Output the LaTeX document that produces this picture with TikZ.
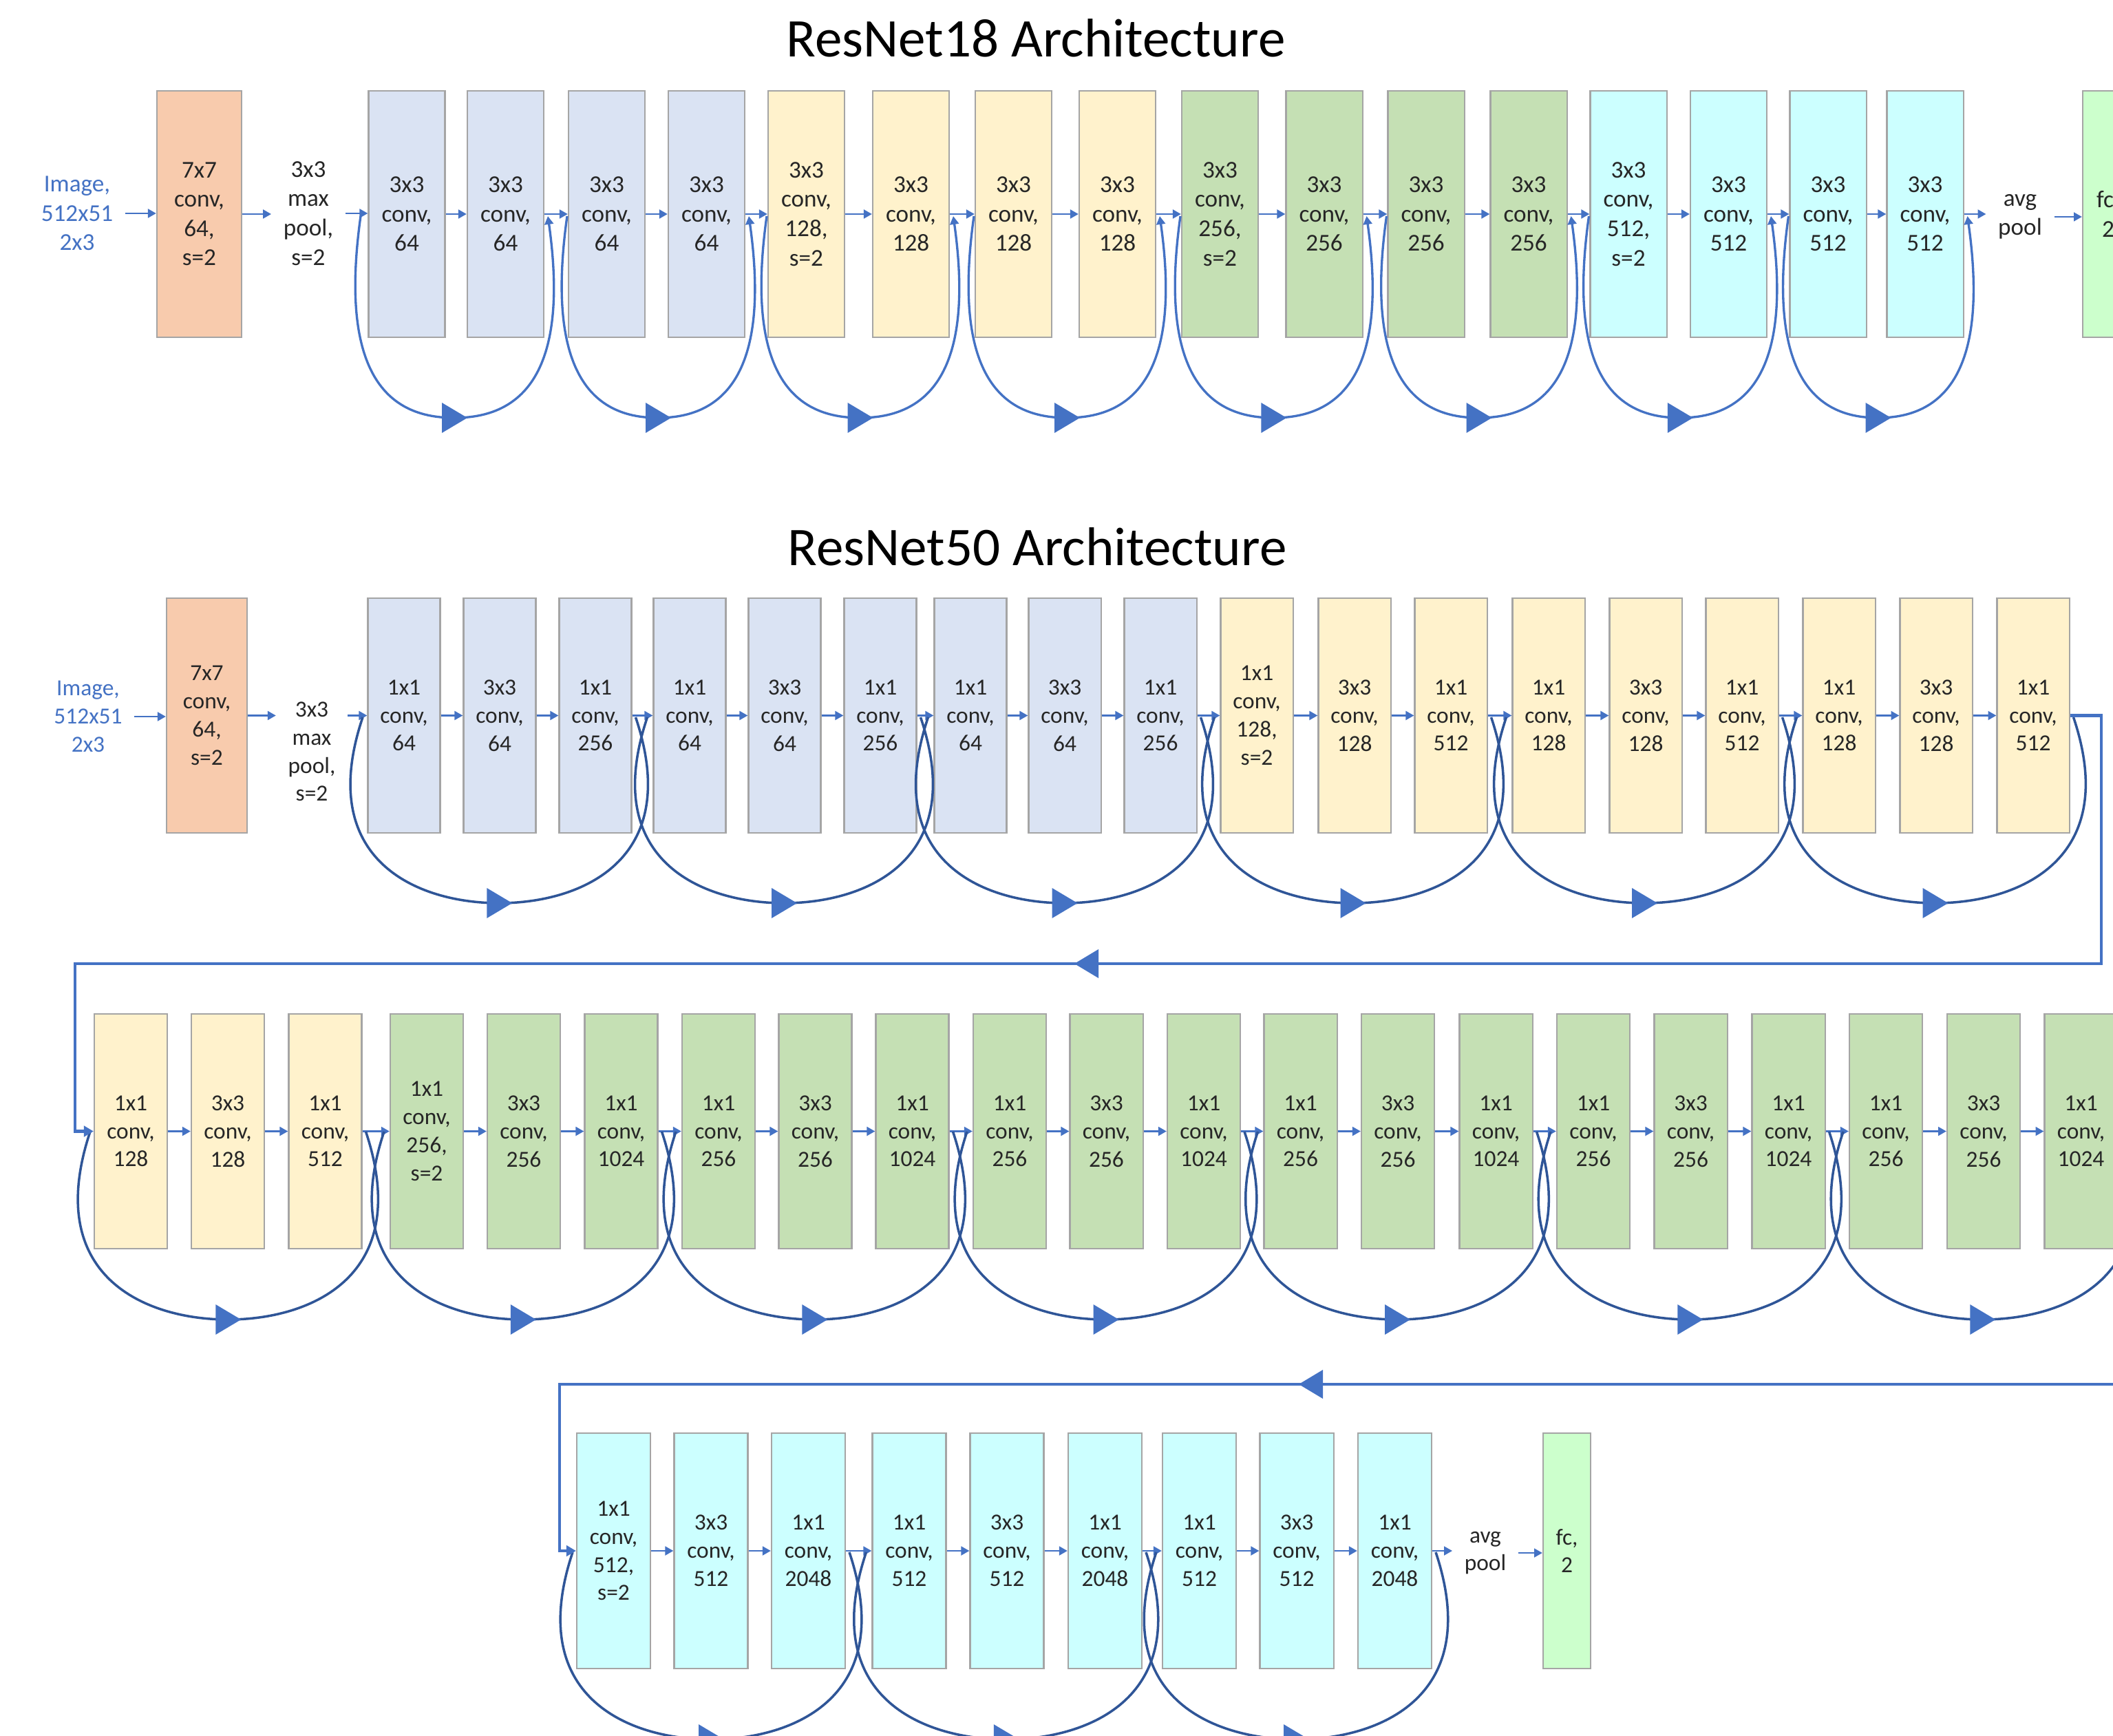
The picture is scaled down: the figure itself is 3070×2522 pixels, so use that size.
\documentclass[tikz,border=0pt]{standalone}
\usepackage{fontspec}
\setmainfont{Carlito}
\usetikzlibrary{arrows.meta}

\definecolor{lineblue}{HTML}{4472C4}
\definecolor{skipnavy}{HTML}{2F5597}
\definecolor{boxline}{HTML}{A5A5A5}
\definecolor{txtgrey}{HTML}{262626}
\definecolor{cOrange}{HTML}{F8CBAD}
\definecolor{cBlue}{HTML}{DAE3F3}
\definecolor{cYellow}{HTML}{FFF2CC}
\definecolor{cGreen}{HTML}{C5E0B4}
\definecolor{cCyan}{HTML}{CCFFFF}
\definecolor{cFc}{HTML}{CCFFCC}

\tikzset{
  bigtri/.pic={\fill[lineblue] (-18,-22) -- (19,0) -- (-18,22) -- cycle;},
  lefttri/.pic={\fill[lineblue] (18,-21) -- (-17,0) -- (18,21) -- cycle;},
}

% residual shortcut: #1 name, #2 start x, #3 end x, #4 top y, #5 bottom y,
% #6 bow of the legs, #7 line style, #8 height fraction of the leg controls
\newcommand\resskip[8]{%
  \pgfmathsetmacro\rsMid{((#2)+(#3))/2}%
  \pgfmathsetmacro\rsCy{(#4)+(#8)*((#5)-(#4))}%
  \pgfmathsetmacro\rsLx{\rsMid-0.6*(\rsMid-(#2))}%
  \pgfmathsetmacro\rsRx{\rsMid+0.6*((#3)-\rsMid)}%
  \coordinate (#1s) at (#2,#4);
  \coordinate (#1m) at (\rsMid,#5);
  \coordinate (#1e) at (#3,#4);
  \draw[#7] (#1s) .. controls (#2-#6,\rsCy) and (\rsLx,#5) .. (#1m)
                 .. controls (\rsRx,#5) and (#3+#6,\rsCy) .. (#1e);
  \pic at (#1m) {bigtri};
}

\begin{document}
\begin{tikzpicture}[x=0.01cm, y=-0.01cm,
  blk/.style={draw=boxline, line width=0.6pt, align=center, text=txtgrey, inner sep=0pt},
  r18/.style={blk, minimum width=1.11cm, minimum height=3.57cm, font=\fontsize{10}{12.1}\selectfont},
  r50a/.style={blk, minimum width=1.05cm, minimum height=3.41cm, font=\fontsize{9.5}{11.6}\selectfont},
  r50b/.style={blk, minimum width=1.06cm, minimum height=3.41cm, font=\fontsize{9.5}{11.6}\selectfont},
  r50c/.style={blk, minimum width=1.07cm, minimum height=3.42cm, font=\fontsize{9.5}{11.6}\selectfont},
  lbl/.style={align=center, inner xsep=0.17cm, inner ysep=0pt, text=txtgrey},
  lbl18/.style={lbl, font=\fontsize{10}{12.1}\selectfont},
  lbl50/.style={lbl, font=\fontsize{9.5}{11.6}\selectfont},
  ttl/.style={font=\fontsize{22.5}{27}\selectfont, text=black, inner sep=0pt, anchor=base},
  flow/.style={draw=lineblue, line width=0.8pt, -{Triangle[length=3.4pt,width=3.6pt]}},
  skip18/.style={draw=lineblue, line width=0.95pt, -{Triangle[length=3.4pt,width=3.6pt]}},
  skip50/.style={draw=skipnavy, line width=1pt},
  ret/.style={draw=lineblue, line width=1.2pt, -{Triangle[length=4pt,width=4.4pt]}},
]
\useasboundingbox (0,0) rectangle (3070,2522);
\fill[white] (0,0) rectangle (3070,2522);

% ---------------- ResNet18 ----------------
\node[ttl] (h18) at (1505,83) {ResNet18 Architecture};

\node[lbl18, text=lineblue] (p18img) at (112,310) {Image,\\512x51\\2x3};
\node[r18, fill=cOrange, minimum width=1.23cm] (p18c7) at (289.5,311) {7x7\\conv,\\64,\\s=2};
\node[lbl18] (p18mp) at (448,310) {3x3\\max\\pool,\\s=2};
\node[r18, fill=cBlue] (p18b1) at (591,311)    {3x3\\conv,\\64};
\node[r18, fill=cBlue] (p18b2) at (734.5,311)  {3x3\\conv,\\64};
\node[r18, fill=cBlue] (p18b3) at (881.5,311)  {3x3\\conv,\\64};
\node[r18, fill=cBlue] (p18b4) at (1026.5,311) {3x3\\conv,\\64};
\node[r18, fill=cYellow] (p18y1) at (1171.5,311) {3x3\\conv,\\128,\\s=2};
\node[r18, fill=cYellow] (p18y2) at (1323.5,311) {3x3\\conv,\\128};
\node[r18, fill=cYellow] (p18y3) at (1472.5,311) {3x3\\conv,\\128};
\node[r18, fill=cYellow] (p18y4) at (1623.5,311) {3x3\\conv,\\128};
\node[r18, fill=cGreen] (p18g1) at (1772.5,311) {3x3\\conv,\\256,\\s=2};
\node[r18, fill=cGreen] (p18g2) at (1924,311)   {3x3\\conv,\\256};
\node[r18, fill=cGreen] (p18g3) at (2072,311)   {3x3\\conv,\\256};
\node[r18, fill=cGreen] (p18g4) at (2221,311)   {3x3\\conv,\\256};
\node[r18, fill=cCyan] (p18k1) at (2366,311)   {3x3\\conv,\\512,\\s=2};
\node[r18, fill=cCyan] (p18k2) at (2511.5,311) {3x3\\conv,\\512};
\node[r18, fill=cCyan] (p18k3) at (2656,311)   {3x3\\conv,\\512};
\node[r18, fill=cCyan] (p18k4) at (2797,311)   {3x3\\conv,\\512};
\node[lbl18] (p18avg) at (2935,315) {avg\\pool};
\node[r18, fill=cFc, minimum width=0.74cm] (p18fc) at (3063,311) {fc,\\2};

\foreach \a/\b in {p18img/p18c7, p18c7/p18mp, p18mp/p18b1, p18b1/p18b2, p18b2/p18b3,
  p18b3/p18b4, p18b4/p18y1, p18y1/p18y2, p18y2/p18y3, p18y3/p18y4, p18y4/p18g1,
  p18g1/p18g2, p18g2/p18g3, p18g3/p18g4, p18g4/p18k1, p18k1/p18k2, p18k2/p18k3,
  p18k3/p18k4, p18k4/p18avg, p18avg/p18fc}
  \draw[flow] (\a.east) -- (\a.east -| \b.west);

\resskip{s18a}{524}{796}{314}{607}{35}{skip18}{0.85}
\resskip{s18b}{824}{1088}{314}{607}{35}{skip18}{0.85}
\resskip{s18c}{1114}{1385}{314}{607}{35}{skip18}{0.85}
\resskip{s18d}{1415}{1685}{314}{607}{35}{skip18}{0.85}
\resskip{s18e}{1715}{1985.5}{314}{607}{35}{skip18}{0.85}
\resskip{s18f}{2014.5}{2282.5}{314}{607}{35}{skip18}{0.85}
\resskip{s18g}{2308.5}{2573}{314}{607}{35}{skip18}{0.85}
\resskip{s18h}{2598.5}{2858.5}{314}{607}{35}{skip18}{0.85}

% ---------------- ResNet50 ----------------
\node[ttl] (h50) at (1507,822) {ResNet50 Architecture};

% first row
\node[lbl50, text=lineblue] (q1img) at (128,1041) {Image,\\512x51\\2x3};
\node[r50a, fill=cOrange, minimum width=1.17cm] (q1c7) at (300.5,1039.5) {7x7\\conv,\\64,\\s=2};
\node[lbl50] (q1mp) at (453,1092) {3x3\\max\\pool,\\s=2};
\node[r50a, fill=cBlue] (q1b1) at (587,1039.5)  {1x1\\conv,\\64};
\node[r50a, fill=cBlue] (q1b2) at (726,1039.5)  {3x3\\conv,\\64};
\node[r50a, fill=cBlue] (q1b3) at (865,1039.5)  {1x1\\conv,\\256};
\node[r50a, fill=cBlue] (q1b4) at (1002,1039.5) {1x1\\conv,\\64};
\node[r50a, fill=cBlue] (q1b5) at (1140,1039.5) {3x3\\conv,\\64};
\node[r50a, fill=cBlue] (q1b6) at (1279,1039.5) {1x1\\conv,\\256};
\node[r50a, fill=cBlue] (q1b7) at (1410,1039.5) {1x1\\conv,\\64};
\node[r50a, fill=cBlue] (q1b8) at (1547,1039.5) {3x3\\conv,\\64};
\node[r50a, fill=cBlue] (q1b9) at (1686,1039.5) {1x1\\conv,\\256};
\node[r50a, fill=cYellow] (q1y1) at (1826,1039.5) {1x1\\conv,\\128,\\s=2};
\node[r50a, fill=cYellow] (q1y2) at (1968,1039.5) {3x3\\conv,\\128};
\node[r50a, fill=cYellow] (q1y3) at (2108,1039.5) {1x1\\conv,\\512};
\node[r50a, fill=cYellow] (q1y4) at (2250,1039.5) {1x1\\conv,\\128};
\node[r50a, fill=cYellow] (q1y5) at (2391,1039.5) {3x3\\conv,\\128};
\node[r50a, fill=cYellow] (q1y6) at (2531,1039.5) {1x1\\conv,\\512};
\node[r50a, fill=cYellow] (q1y7) at (2672,1039.5) {1x1\\conv,\\128};
\node[r50a, fill=cYellow] (q1y8) at (2813,1039.5) {3x3\\conv,\\128};
\node[r50a, fill=cYellow] (q1y9) at (2954,1039.5) {1x1\\conv,\\512};

\draw[flow] (q1img.east) -- (q1img.east -| q1c7.west);
\draw[flow] (q1c7.east) -- (q1c7.east -| q1mp.west);
\draw[flow] (q1b1.west -| q1mp.east) -- (q1b1.west);
\foreach \a/\b in {q1b1/q1b2, q1b2/q1b3, q1b3/q1b4, q1b4/q1b5, q1b5/q1b6, q1b6/q1b7,
  q1b7/q1b8, q1b8/q1b9, q1b9/q1y1, q1y1/q1y2, q1y2/q1y3, q1y3/q1y4, q1y4/q1y5,
  q1y5/q1y6, q1y6/q1y7, q1y7/q1y8, q1y8/q1y9}
  \draw[flow] (\a.east) -- (\a.east -| \b.west);

\resskip{s1a}{527}{923.5}{1042}{1312}{70}{skip50}{0.77}
\resskip{s1b}{940.5}{1337.5}{1042}{1312}{70}{skip50}{0.77}
\resskip{s1c}{1348.5}{1744.5}{1042}{1312}{70}{skip50}{0.77}
\resskip{s1d}{1764.5}{2166.5}{1042}{1312}{70}{skip50}{0.77}
\resskip{s1e}{2188.5}{2589.5}{1042}{1312}{70}{skip50}{0.77}
\resskip{s1f}{2610.5}{3012.5}{1042}{1312}{70}{skip50}{0.77}

% second row
\node[r50b, fill=cYellow] (q2y1) at (190,1643.5)   {1x1\\conv,\\128};
\node[r50b, fill=cYellow] (q2y2) at (331,1643.5)   {3x3\\conv,\\128};
\node[r50b, fill=cYellow] (q2y3) at (472.5,1643.5) {1x1\\conv,\\512};
\node[r50b, fill=cGreen] (q2g1) at (620,1643.5)    {1x1\\conv,\\256,\\s=2};
\node[r50b, fill=cGreen] (q2g2) at (761,1643.5)    {3x3\\conv,\\256};
\node[r50b, fill=cGreen] (q2g3) at (902.5,1643.5)  {1x1\\conv,\\1024};
\node[r50b, fill=cGreen] (q2g4) at (1044,1643.5)   {1x1\\conv,\\256};
\node[r50b, fill=cGreen] (q2g5) at (1184.5,1643.5) {3x3\\conv,\\256};
\node[r50b, fill=cGreen] (q2g6) at (1325.5,1643.5) {1x1\\conv,\\1024};
\node[r50b, fill=cGreen] (q2g7) at (1467,1643.5)   {1x1\\conv,\\256};
\node[r50b, fill=cGreen] (q2g8) at (1607.5,1643.5) {3x3\\conv,\\256};
\node[r50b, fill=cGreen] (q2g9) at (1749,1643.5)   {1x1\\conv,\\1024};
\node[r50b, fill=cGreen] (q2g10) at (1889.5,1643.5) {1x1\\conv,\\256};
\node[r50b, fill=cGreen] (q2g11) at (2031,1643.5)   {3x3\\conv,\\256};
\node[r50b, fill=cGreen] (q2g12) at (2173.5,1643.5) {1x1\\conv,\\1024};
\node[r50b, fill=cGreen] (q2g13) at (2315,1643.5)   {1x1\\conv,\\256};
\node[r50b, fill=cGreen] (q2g14) at (2456.5,1643.5) {3x3\\conv,\\256};
\node[r50b, fill=cGreen] (q2g15) at (2598.5,1643.5) {1x1\\conv,\\1024};
\node[r50b, fill=cGreen] (q2g16) at (2740,1643.5)   {1x1\\conv,\\256};
\node[r50b, fill=cGreen] (q2g17) at (2882,1643.5)   {3x3\\conv,\\256};
\node[r50b, fill=cGreen] (q2g18) at (3023.5,1643.5) {1x1\\conv,\\1024};

\foreach \a/\b in {q2y1/q2y2, q2y2/q2y3, q2y3/q2g1, q2g1/q2g2, q2g2/q2g3, q2g3/q2g4,
  q2g4/q2g5, q2g5/q2g6, q2g6/q2g7, q2g7/q2g8, q2g8/q2g9, q2g9/q2g10, q2g10/q2g11,
  q2g11/q2g12, q2g12/q2g13, q2g13/q2g14, q2g14/q2g15, q2g15/q2g16, q2g16/q2g17,
  q2g17/q2g18}
  \draw[flow] (\a.east) -- (\a.east -| \b.west);

\resskip{s2a}{131}{531.5}{1644}{1917}{70}{skip50}{0.77}
\resskip{s2b}{558}{961.5}{1644}{1917}{70}{skip50}{0.77}
\resskip{s2c}{982}{1384.5}{1644}{1917}{70}{skip50}{0.77}
\resskip{s2d}{1405}{1808}{1644}{1917}{70}{skip50}{0.77}
\resskip{s2e}{1827.5}{2232.5}{1644}{1917}{70}{skip50}{0.77}
\resskip{s2f}{2253}{2657.5}{1644}{1917}{70}{skip50}{0.77}
\resskip{s2g}{2678}{3082.5}{1644}{1917}{70}{skip50}{0.77}

% third row
\node[r50c, fill=cCyan] (q3k1) at (891.5,2253)  {1x1\\conv,\\512,\\s=2};
\node[r50c, fill=cCyan] (q3k2) at (1033,2253)   {3x3\\conv,\\512};
\node[r50c, fill=cCyan] (q3k3) at (1174.5,2253) {1x1\\conv,\\2048};
\node[r50c, fill=cCyan] (q3k4) at (1321,2253)   {1x1\\conv,\\512};
\node[r50c, fill=cCyan] (q3k5) at (1463,2253)   {3x3\\conv,\\512};
\node[r50c, fill=cCyan] (q3k6) at (1605.5,2253) {1x1\\conv,\\2048};
\node[r50c, fill=cCyan] (q3k7) at (1742.5,2253) {1x1\\conv,\\512};
\node[r50c, fill=cCyan] (q3k8) at (1884,2253)   {3x3\\conv,\\512};
\node[r50c, fill=cCyan] (q3k9) at (2026.5,2253) {1x1\\conv,\\2048};
\node[lbl50] (q3avg) at (2158,2256) {avg\\pool};
\node[r50c, fill=cFc, minimum width=0.69cm] (q3fc) at (2276.5,2253) {fc,\\2};

\foreach \a/\b in {q3k1/q3k2, q3k2/q3k3, q3k3/q3k4, q3k4/q3k5, q3k5/q3k6, q3k6/q3k7,
  q3k7/q3k8, q3k8/q3k9, q3k9/q3avg, q3avg/q3fc}
  \draw[flow] (\a.east) -- (\a.east -| \b.west);

\resskip{s3a}{832}{1234}{2255}{2527}{70}{skip50}{0.77}
\resskip{s3b}{1258.5}{1665}{2255}{2527}{70}{skip50}{0.77}
\resskip{s3c}{1680}{2086}{2255}{2527}{70}{skip50}{0.77}

% wrap-around lines between the rows
\coordinate (w1a) at (3053,1400);
\coordinate (w1b) at (109,1400);
\draw[ret] (q1y9.east) -| (w1a) -- (w1b) |- (q2y1.west);
\pic at (1578,1400) {lefttri};

\coordinate (w2a) at (3110,2011);
\coordinate (w2b) at (813,2011);
\draw[ret] (q2g18.east) -| (w2a) -- (w2b) |- (q3k1.west);
\pic at (1904,2011) {lefttri};

\end{tikzpicture}
\end{document}
